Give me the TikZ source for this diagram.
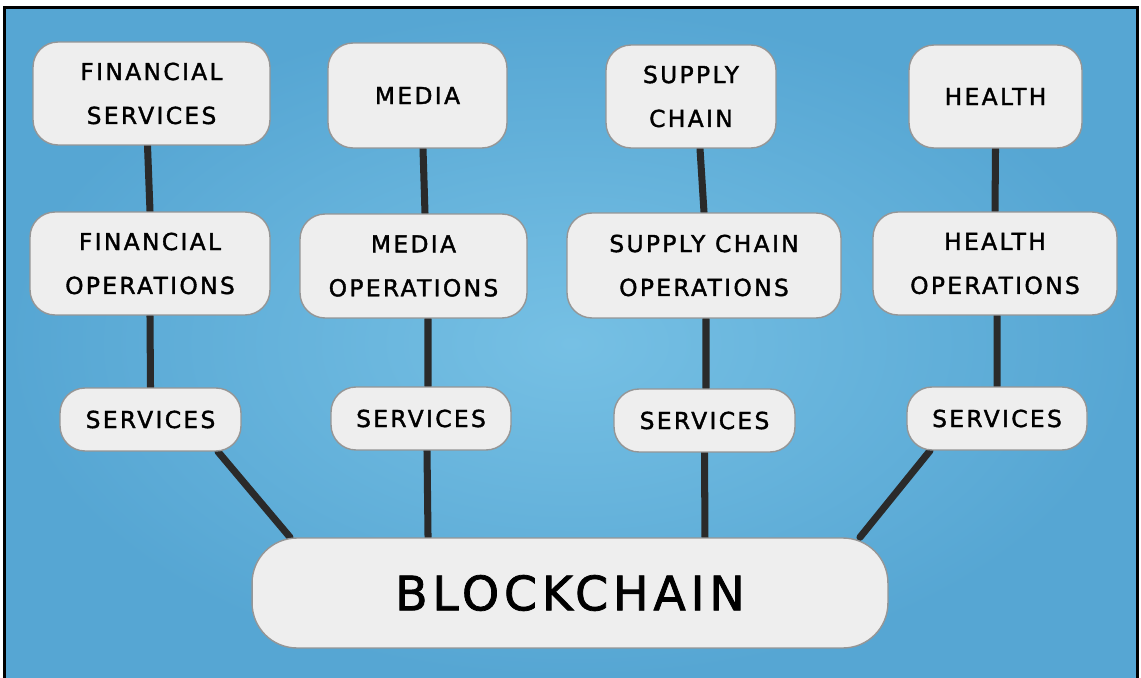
\documentclass[tikz,border=0pt]{standalone}
\usepackage{fontspec}
\newfontfamily\handfont[LetterSpace=10,FakeBold=1.6]{DejaVu Sans}
\usepackage{tikz}
\usetikzlibrary{backgrounds}
\definecolor{bgouter}{RGB}{86,166,211}
\definecolor{bginner}{RGB}{118,192,228}
\definecolor{boxfill}{RGB}{238,238,238}
\definecolor{boxline}{RGB}{150,150,150}
\definecolor{wire}{RGB}{42,42,42}

\begin{document}
\begin{tikzpicture}[x=0.02cm,y=-0.02cm]
  \tikzset{card/.style={draw=boxline,line width=0.8pt,fill=boxfill,rounded corners=0.5cm,
      inner sep=0pt,align=center,font=\handfont\fontsize{13.3}{25}\selectfont},
    basecard/.style={card,rounded corners=0.9cm,font=\handfont\fontsize{27}{30}\selectfont},
    wireline/.style={draw=wire,line width=4pt,line cap=round}}
  \useasboundingbox (0,0) rectangle (1141,678);
  % ---------------- frame
  \draw[line width=0.06cm] (4.5,678) -- (4.5,8) -- (1137.5,8) -- (1137.5,678);
  % ---------------- sectors
  \node[card,minimum width=4.74cm,minimum height=2.06cm] (fs) at (151.5,93.5) {FINANCIAL\\SERVICES};
  \node[card,minimum width=3.58cm,minimum height=2.1cm] (md) at (417.5,95.5) {MEDIA};
  \node[card,minimum width=3.4cm,minimum height=2.06cm] (sc) at (691,96.5) {SUPPLY\\CHAIN};
  \node[card,minimum width=3.46cm,minimum height=2.06cm] (hl) at (995.5,96.5) {HEALTH};
  % ---------------- operations
  \node[card,minimum width=4.8cm,minimum height=2.06cm] (fo) at (150,263.5) {FINANCIAL\\OPERATIONS};
  \node[card,minimum width=4.54cm,minimum height=2.08cm] (mo) at (413.5,266) {MEDIA\\OPERATIONS};
  \node[card,minimum width=5.48cm,minimum height=2.1cm] (so) at (704,265.5) {SUPPLY CHAIN\\OPERATIONS};
  \node[card,minimum width=4.88cm,minimum height=2.06cm] (ho) at (995,263.5) {HEALTH\\OPERATIONS};
  % ---------------- services
  \node[card,minimum width=3.62cm,minimum height=1.26cm] (s1) at (150.5,419.5) {SERVICES};
  \node[card,minimum width=3.6cm,minimum height=1.26cm] (s2) at (421,418.5) {SERVICES};
  \node[card,minimum width=3.62cm,minimum height=1.26cm] (s3) at (704.5,420.5) {SERVICES};
  \node[card,minimum width=3.6cm,minimum height=1.26cm] (s4) at (997,418.5) {SERVICES};
  % ---------------- blockchain
  \node[basecard,minimum width=12.72cm,minimum height=2.2cm] (bc) at (570,593) {BLOCKCHAIN};
  % ---------------- background and wires
  \begin{scope}[on background layer]
    \shade[inner color=bginner,outer color=bgouter] (6,9) rectangle (1136,678);
  \end{scope}
  \begin{scope}[on background layer]
    \draw[wireline] ([xshift=-0.08cm]fs.south) -- (fo.north);
    \draw[wireline] (fo.south) -- (s1.north);
    \draw[wireline] ([xshift=1.35cm]s1.south) -- ([xshift=-5.6cm]bc.north);
    \draw[wireline] ([xshift=0.11cm]md.south) -- ([xshift=0.23cm]mo.north);
    \draw[wireline] ([xshift=0.29cm]mo.south) -- ([xshift=0.14cm]s2.north);
    \draw[wireline] ([xshift=0.12cm]s2.south) -- ([xshift=-2.84cm]bc.north);
    \draw[wireline] ([xshift=0.18cm]sc.south) -- (so.north);
    \draw[wireline] ([xshift=0.04cm]so.south) -- ([xshift=0.03cm]s3.north);
    \draw[wireline] (s3.south) -- ([xshift=2.7cm]bc.north);
    \draw[wireline] (hl.south) -- (ho.north);
    \draw[wireline] ([xshift=0.04cm]ho.south) -- (s4.north);
    \draw[wireline] ([xshift=-1.34cm]s4.south) -- ([xshift=5.8cm]bc.north);
  \end{scope}
\end{tikzpicture}
\end{document}
